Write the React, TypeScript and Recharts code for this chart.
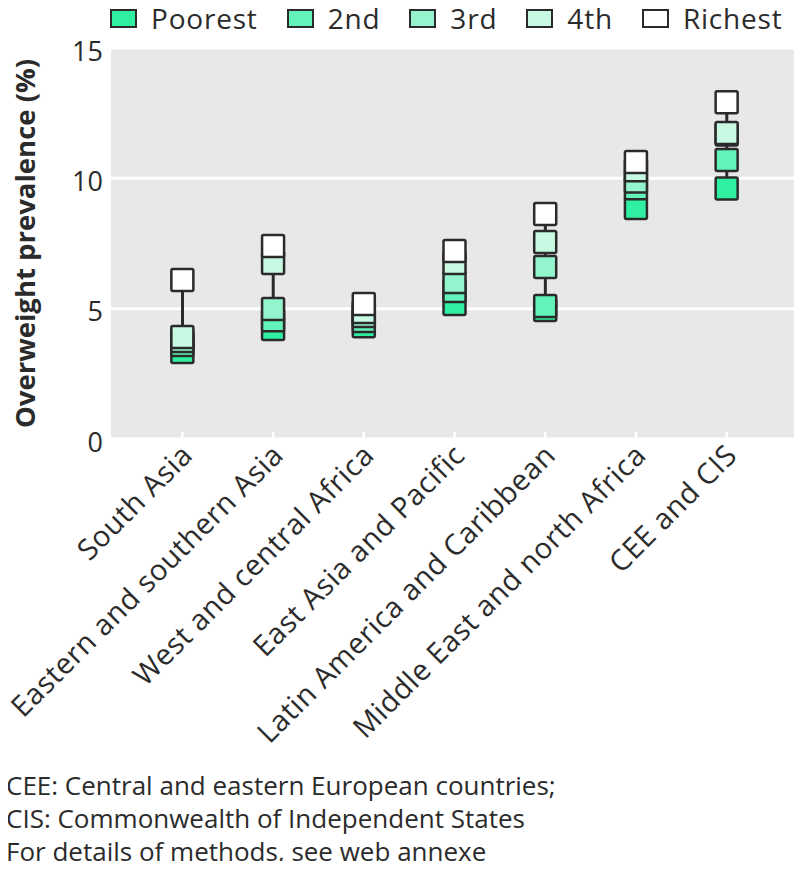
import React from 'react';
import {
  ComposedChart,
  Bar,
  Line,
  XAxis,
  YAxis,
  CartesianGrid,
} from 'recharts';

const regions = [
  'South Asia',
  'Eastern and southern Asia',
  'West and central Africa',
  'East Asia and Pacific',
  'Latin America and Caribbean',
  'Middle East and north Africa',
  'CEE and CIS',
];

// overweight prevalence (%) by wealth quintile
const poorest = [3.34, 4.22, 4.33, 5.18, 4.95, 8.86, 9.61];
const second = [3.61, 4.56, 4.53, 5.68, 5.1, 9.62, 10.7];
const third = [3.76, 4.99, 4.72, 6.02, 6.6, 9.88, 11.68];
const fourth = [3.91, 6.75, 4.87, 6.75, 7.56, 10.31, 11.74];
const richest = [6.1, 7.4, 5.18, 7.21, 8.63, 10.63, 12.92];

const yTicks = [0, 5, 10, 15];

const quintiles = [
  { key: 'poorest', name: 'Poorest', values: poorest, color: '#2ff0a0' },
  { key: 'second', name: '2nd', values: second, color: '#62f2ba' },
  { key: 'third', name: '3rd', values: third, color: '#94f4cd' },
  { key: 'fourth', name: '4th', values: fourth, color: '#c8f9e2' },
  { key: 'richest', name: 'Richest', values: richest, color: '#ffffff' },
];

const FONT = '"Open Sans", "Noto Sans", sans-serif';
const INK = '#2b2b2b';

const chartData = regions.map((region, i) => {
  const row: any = { region };
  quintiles.forEach(q => { row[q.key] = q.values[i]; });
  const vals = quintiles.map(q => q.values[i]);
  row.range = [Math.min(...vals), Math.max(...vals)];
  return row;
});

const squareDot = (color: string) => (props: any) => {
  const { cx, cy, index } = props;
  if (cx == null || cy == null) return <g key={index} />;
  return (
    <rect
      key={index}
      x={cx - 11}
      y={cy - 11}
      width={22}
      height={22}
      rx={1.5}
      fill={color}
      stroke={INK}
      strokeWidth={2.5}
    />
  );
};

const XTick = (props: any) => {
  const { x, y, payload } = props;
  const tx = x + 12;
  const ty = y + 18;
  return (
    <g>
      <line x1={x} x2={x} y1={y - 7} y2={y} stroke="#fff" strokeWidth={2.5} />
      <text
        x={tx}
        y={ty}
        transform={`rotate(-45 ${tx} ${ty})`}
        textAnchor="end"
        fontSize={29}
        letterSpacing={0.6}
        fontFamily={FONT}
        fill={INK}
      >
        {payload.value}
      </text>
    </g>
  );
};

const YLabel = (props: any) => {
  const vb = props.viewBox || { x: 0, y: 48, height: 391 };
  const cx = 24;
  const cy = vb.y + vb.height / 2;
  return (
    <text
      x={cx}
      y={cy}
      transform={`rotate(-90 ${cx} ${cy})`}
      textAnchor="middle"
      dominantBaseline="central"
      fontSize={27.5}
      fontWeight={700}
      fontFamily={FONT}
      fill={INK}
    >
      Overweight prevalence (%)
    </text>
  );
};

export default function App() {
  return (
    <div style={{ position: 'relative', width: 802, height: 869, margin: -8, background: '#fff', fontFamily: FONT, color: INK }}>
      {/* legend */}
      <div style={{ position: 'absolute', top: 1, left: 110, display: 'flex', alignItems: 'center', height: 34 }}>
        {quintiles.map(q => (
          <div key={q.key} style={{ display: 'flex', alignItems: 'center', marginRight: 29 }}>
            <span
              style={{
                display: 'inline-block',
                width: 23,
                height: 15,
                background: q.color,
                border: `2.5px solid ${INK}`,
                marginRight: 14,
              }}
            />
            <span style={{ fontSize: 28, lineHeight: '34px', letterSpacing: 0.8 }}>{q.name}</span>
          </div>
        ))}
      </div>

      <div style={{ position: 'absolute', top: 0, left: 0 }}>
        <ComposedChart
          width={802}
          height={760}
          data={chartData}
          margin={{ top: 48, right: 4, left: 0, bottom: 0 }}
        >
          <CartesianGrid fill="#e8e8e8" stroke="#fff" strokeWidth={3} vertical={false} />
          <XAxis
            dataKey="region"
            interval={0}
            height={321}
            padding={{ left: 26, right: 26 }}
            axisLine={false}
            tickLine={false}
            tickSize={0}
            tickMargin={0}
            tick={<XTick />}
          />
          <YAxis
            domain={[0, 15]}
            ticks={yTicks}
            width={111}
            axisLine={false}
            tickLine={false}
            tickSize={0}
            tickMargin={8}
            tick={{ fontSize: 27, fontFamily: FONT, fill: INK, dy: 3 }}
            label={{ value: 'Overweight prevalence (%)', content: YLabel }}
          />
          <Bar dataKey="range" barSize={3} fill={INK} isAnimationActive={false} />
          {quintiles.map(q => (
            <Line
              key={q.key}
              dataKey={q.key}
              name={q.name}
              stroke="none"
              dot={squareDot(q.color)}
              activeDot={false}
              isAnimationActive={false}
            />
          ))}
        </ComposedChart>
      </div>

      {/* footnote */}
      <div style={{ position: 'absolute', left: 6, top: 769, fontSize: 26, lineHeight: '33px' }}>
        <div>CEE: Central and eastern European countries;</div>
        <div>CIS: Commonwealth of Independent States</div>
        <div>For details of methods, see web annexe</div>
      </div>
    </div>
  );
}
